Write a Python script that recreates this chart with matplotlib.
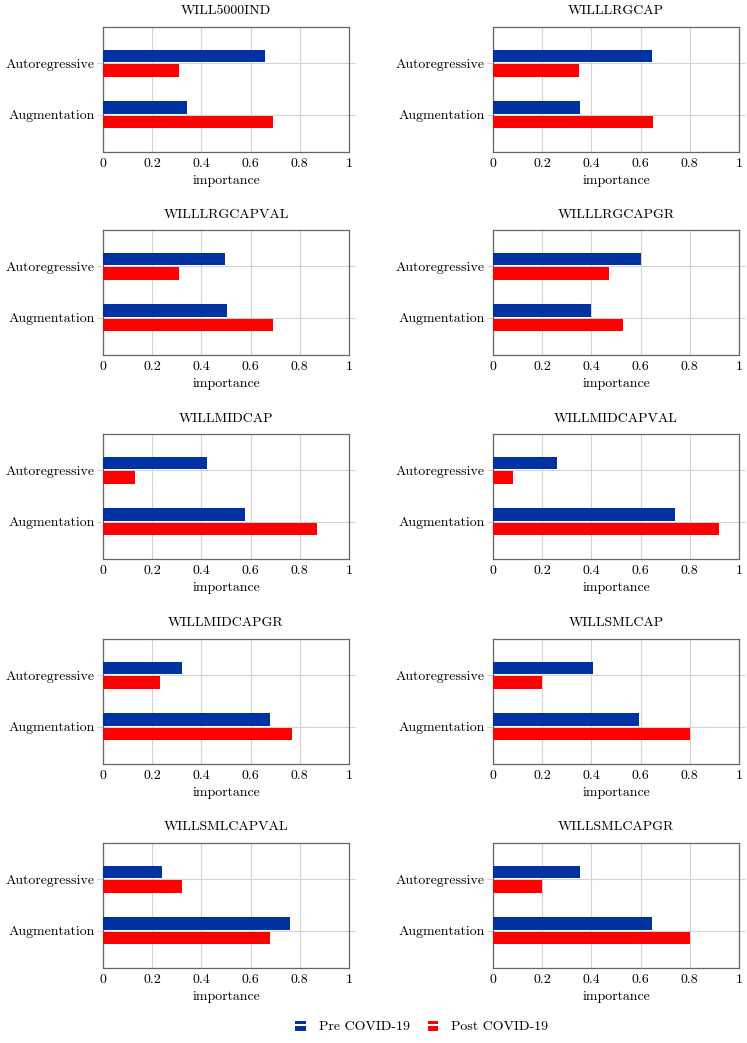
import matplotlib
matplotlib.use('Agg')
import matplotlib.pyplot as plt
import numpy as np
from matplotlib.patches import Rectangle
from matplotlib.legend_handler import HandlerBase

plt.rcParams['font.family'] = 'serif'
plt.rcParams['font.serif'] = ['cmr10', 'DejaVu Serif']
plt.rcParams['axes.formatter.use_mathtext'] = True
plt.rcParams['mathtext.fontset'] = 'cm'
plt.rcParams['font.size'] = 10

# data
indices = ['WILL5000IND', 'WILLLRGCAP', 'WILLLRGCAPVAL', 'WILLLRGCAPGR',
           'WILLMIDCAP', 'WILLMIDCAPVAL', 'WILLMIDCAPGR', 'WILLSMLCAP',
           'WILLSMLCAPVAL', 'WILLSMLCAPGR']
categories = ['Autoregressive', 'Augmentation']
pre_covid = [[0.66, 0.34], [0.645, 0.355], [0.495, 0.505], [0.60, 0.40],
             [0.423, 0.577], [0.26, 0.74], [0.322, 0.678], [0.405, 0.595],
             [0.24, 0.76], [0.353, 0.647]]
post_covid = [[0.31, 0.69], [0.35, 0.65], [0.31, 0.69], [0.47, 0.53],
              [0.132, 0.868], [0.08, 0.92], [0.23, 0.77], [0.20, 0.80],
              [0.322, 0.678], [0.20, 0.80]]
xticks = [0, 0.2, 0.4, 0.6, 0.8, 1]
xtick_labels = ['0', '0.2', '0.4', '0.6', '0.8', '1']
series_names = ['Pre COVID-19', 'Post COVID-19']

BLUE = '#0033a0'
RED = '#ff0000'
W, H = 747, 1043


class BarPairHandler(HandlerBase):
    # little two-bar glyph like pgfplots xbar legends
    def create_artists(self, legend, orig_handle, xdescent, ydescent,
                       width, height, fontsize, trans):
        c = orig_handle.get_facecolor()
        w = 7.5
        x0 = -xdescent + (width - w) / 2
        yc = -ydescent + height / 2
        top = Rectangle((x0, yc + 1.0), w, 2.2, facecolor=c, edgecolor='none', transform=trans)
        bot = Rectangle((x0, yc - 3.6), w, 3.0, facecolor=c, edgecolor='none', transform=trans)
        return [top, bot]


fig = plt.figure(figsize=(W / 100, H / 100), dpi=100)

lefts = [103, 493]
tops = [27, 230, 434, 639, 843]
ax_w, ax_h = 246, 125

y = np.array([1, 0])
handles = []
for i, name in enumerate(indices):
    row, col = divmod(i, 2)
    ax = fig.add_axes([lefts[col] / W, 1 - (tops[row] + ax_h) / H, ax_w / W, ax_h / H])
    b1 = ax.barh(y + 0.14, pre_covid[i], height=0.24, color=BLUE, zorder=3)
    b2 = ax.barh(y - 0.14, post_covid[i], height=0.24, color=RED, zorder=3)
    if i == 0:
        handles = [b1[0], b2[0]]
    ax.set_xlim(0, 1)
    ax.set_ylim(-0.725, 1.705)
    ax.set_xticks(xticks)
    ax.set_xticklabels(xtick_labels)
    ax.set_yticks(y)
    ax.set_yticklabels(categories)
    ax.grid(True, color='#d3d3d3', linewidth=0.8, zorder=0)
    ax.set_axisbelow(True)
    ax.tick_params(axis='x', length=0, pad=4.5, labelsize=10)
    ax.tick_params(axis='y', direction='out', length=4, color='#d3d3d3',
                   width=0.8, pad=2, right=True, labelsize=10)
    for s in ax.spines.values():
        s.set_color('#666666')
        s.set_linewidth(0.9)
    ax.set_title(name, fontsize=10, pad=9)
    ax.set_xlabel('importance', fontsize=10, labelpad=3)

fig.legend(handles, series_names, loc='center',
           bbox_to_anchor=(421 / W, 1 - 1027 / H), ncol=2, frameon=False,
           handler_map={h: BarPairHandler() for h in handles},
           handlelength=1.0, handletextpad=0.8, columnspacing=1.2, fontsize=10)

fig.savefig('out.png', dpi=100)
